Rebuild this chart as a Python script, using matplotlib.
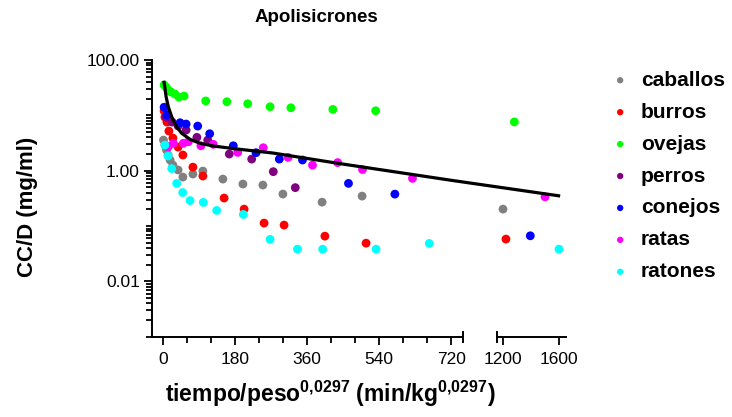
import numpy as np
import matplotlib
matplotlib.use("Agg")
import matplotlib.pyplot as plt
from matplotlib.scale import FuncScale
from matplotlib.ticker import FixedLocator, FixedFormatter, LogLocator, NullFormatter

plt.rcParams['font.family'] = ['Liberation Sans', 'DejaVu Sans']
plt.rcParams['mathtext.fontset'] = 'custom'
plt.rcParams['mathtext.rm'] = 'Liberation Sans'
plt.rcParams['mathtext.bf'] = 'Liberation Sans:bold'
plt.rcParams['mathtext.it'] = 'Liberation Sans:italic'

# ---------------- data ----------------
title = "Apolisicrones"
series_names = ["caballos", "burros", "ovejas", "perros", "conejos", "ratas", "ratones"]
series_colors = ["#808080", "#ff0000", "#00ff00", "#800080", "#0000ff", "#ff00ff", "#00ffff"]

caballos_t = [0.5, 4, 8, 12, 17, 24, 37, 49, 74, 99, 149, 199, 249, 299, 397, 497, 1198]
caballos_y = [3.57, 2.90, 2.36, 1.92, 1.56, 1.26, 1.03, 0.766, 0.869, 0.984, 0.705, 0.573, 0.55, 0.378, 0.27, 0.347, 0.202]

burros_t = [2, 4, 9, 14, 24, 37, 49, 74, 99, 152, 202, 252, 302, 404, 507, 1219]
burros_y = [12.0, 9.3, 7.56, 5.2, 3.89, 2.67, 1.92, 1.16, 0.80, 0.32, 0.202, 0.113, 0.104, 0.0656, 0.049, 0.058]

ovejas_t = [2, 7, 12, 19, 29, 39, 52, 106, 159, 211, 267, 319, 424, 531, 1279]
ovejas_y = [35.3, 32.5, 28.7, 26.4, 24.3, 21.4, 22.3, 18.2, 17.6, 16.2, 14.3, 13.7, 12.8, 12.1, 7.6]

perros_t = [7, 22, 37, 57, 84, 111, 165, 221, 275, 330]
perros_y = [9.3, 7.56, 6.41, 5.42, 4.0, 3.57, 2.0, 1.62, 0.96, 0.494]

conejos_t = [2, 9, 42, 57, 86, 116, 175, 232, 290, 348, 463, 579, 1393]
conejos_y = [14.0, 10.1, 7.35, 6.96, 6.4, 4.65, 2.82, 2.11, 1.62, 1.56, 0.589, 0.377, 0.0666]

ratas_t = [12.5, 25, 50, 62.5, 94, 125, 186, 250, 312, 373, 436, 498, 623, 1498]
ratas_y = [2.70, 3.12, 3.12, 3.33, 2.82, 2.99, 2.14, 2.6, 1.74, 1.26, 1.40, 1.05, 0.726, 0.337]

ratones_t = [4, 12, 21, 33.5, 48.5, 67, 100, 133.5, 200, 267, 335.5, 398.5, 532, 665, 1598]
ratones_y = [2.90, 1.84, 1.09, 0.589, 0.402, 0.288, 0.267, 0.191, 0.162, 0.0573, 0.0382, 0.0382, 0.0382, 0.0484, 0.0382]

curve_t = [2, 7, 12.5, 21, 32, 46, 67, 92, 125, 175, 275, 442, 720, 1595]
curve_y = [39.5, 21.7, 14.3, 9.44, 6.41, 4.73, 3.68, 3.12, 2.79, 2.51, 2.08, 1.34, 0.67, 0.352]

x_major = [0, 180, 360, 540, 720, 1200, 1600]
x_minor = [60, 120, 240, 300, 420, 480, 600, 660]
y_major = [0.01, 1, 100]
y_labels = ["0.01", "1.00", "100.00"]

# ---------------- broken x scale ----------------
X0, B0, B1, X1 = -27.5, 748.5, 1157.0, 1648.0
K1, K2, GAP = 0.4, 0.14, 34.6
KG = GAP / (B1 - B0)
U0 = B0 * K1
U1 = U0 + GAP


def fwd(t):
    t = np.asarray(t, float)
    return np.where(t <= B0, t * K1,
                    np.where(t < B1, U0 + (t - B0) * KG, U1 + (t - B1) * K2))


def inv(u):
    u = np.asarray(u, float)
    return np.where(u <= U0, u / K1,
                    np.where(u < U1, B0 + (u - U0) / KG, B1 + (u - U1) / K2))


fig = plt.figure(figsize=(7.32, 4.17), dpi=100)
ax = fig.add_axes([152.3 / 732, 1 - 336.7 / 417, (566 - 152.3) / 732, (336.7 - 60) / 417])
ax.set_xscale(FuncScale(ax, (fwd, inv)))
ax.set_yscale('log')

all_t = [caballos_t, burros_t, ovejas_t, perros_t, conejos_t, ratas_t, ratones_t]
all_y = [caballos_y, burros_y, ovejas_y, perros_y, conejos_y, ratas_y, ratones_y]
handles = []
for name, col, tt, yy in zip(series_names, series_colors, all_t, all_y):
    h = ax.scatter(tt, yy, s=40, color=col, edgecolors='none', label=name, zorder=3)
    handles.append(h)

ax.plot(curve_t, curve_y, color='black', lw=2.3, zorder=4, clip_on=False)

ax.set_xlim(X0, X1)
ax.set_ylim(0.001, 100)

ax.xaxis.set_major_locator(FixedLocator(x_major))
ax.xaxis.set_minor_locator(FixedLocator(x_minor))
ax.set_xticklabels([str(v) for v in x_major])
ax.yaxis.set_major_locator(FixedLocator(y_major))
ax.yaxis.set_major_formatter(FixedFormatter(y_labels))
ax.yaxis.set_minor_locator(LogLocator(base=10, subs=np.arange(1, 10), numticks=50))
ax.yaxis.set_minor_formatter(NullFormatter())

ax.tick_params(axis='both', which='major', length=6, width=1.3, labelsize=12.5, color='black')
ax.tick_params(axis='both', which='minor', length=4, width=1.3, color='black')
ax.tick_params(axis='x', which='major', pad=5)
ax.tick_params(axis='y', which='major', pad=3)

for s in ['top', 'right', 'bottom']:
    ax.spines[s].set_visible(False)
ax.spines['left'].set_linewidth(1.4)

# broken x axis line
xt = ax.get_xaxis_transform()
ax.plot([X0, B0], [0, 0], color='black', lw=1.4, transform=xt, clip_on=False)
ax.plot([B1, X1], [0, 0], color='black', lw=1.4, transform=xt, clip_on=False)
ax.plot([B0, B0], [-0.018, 0.018], color='black', lw=1.4, transform=xt, clip_on=False)
ax.plot([B1, B1], [-0.018, 0.018], color='black', lw=1.4, transform=xt, clip_on=False)

fig.text(316 / 732, 1 - 18 / 417, title, fontsize=13.5, fontweight='bold', ha='center', va='center')
fig.text(27 / 732, 1 - 207 / 417, "CC/D (mg/ml)", fontsize=16, fontweight='bold',
         rotation=90, ha='center', va='center')
fig.text(330 / 732, 1 - 394 / 417,
         r"tiempo/peso$^{\mathbf{0{,}0297}}$ (min/kg$^{\mathbf{0{,}0297}}$)",
         fontsize=16.5, fontweight='bold', ha='center', va='center')

leg = fig.legend(handles=handles, labels=series_names, loc='upper left',
                 bbox_to_anchor=(591 / 732, 1 - 52 / 417), frameon=False,
                 prop={'size': 15, 'weight': 'bold'}, markerscale=0.72,
                 handletextpad=0.5, labelspacing=0.62, handlelength=1.0)

fig.savefig("out.png", dpi=100)
